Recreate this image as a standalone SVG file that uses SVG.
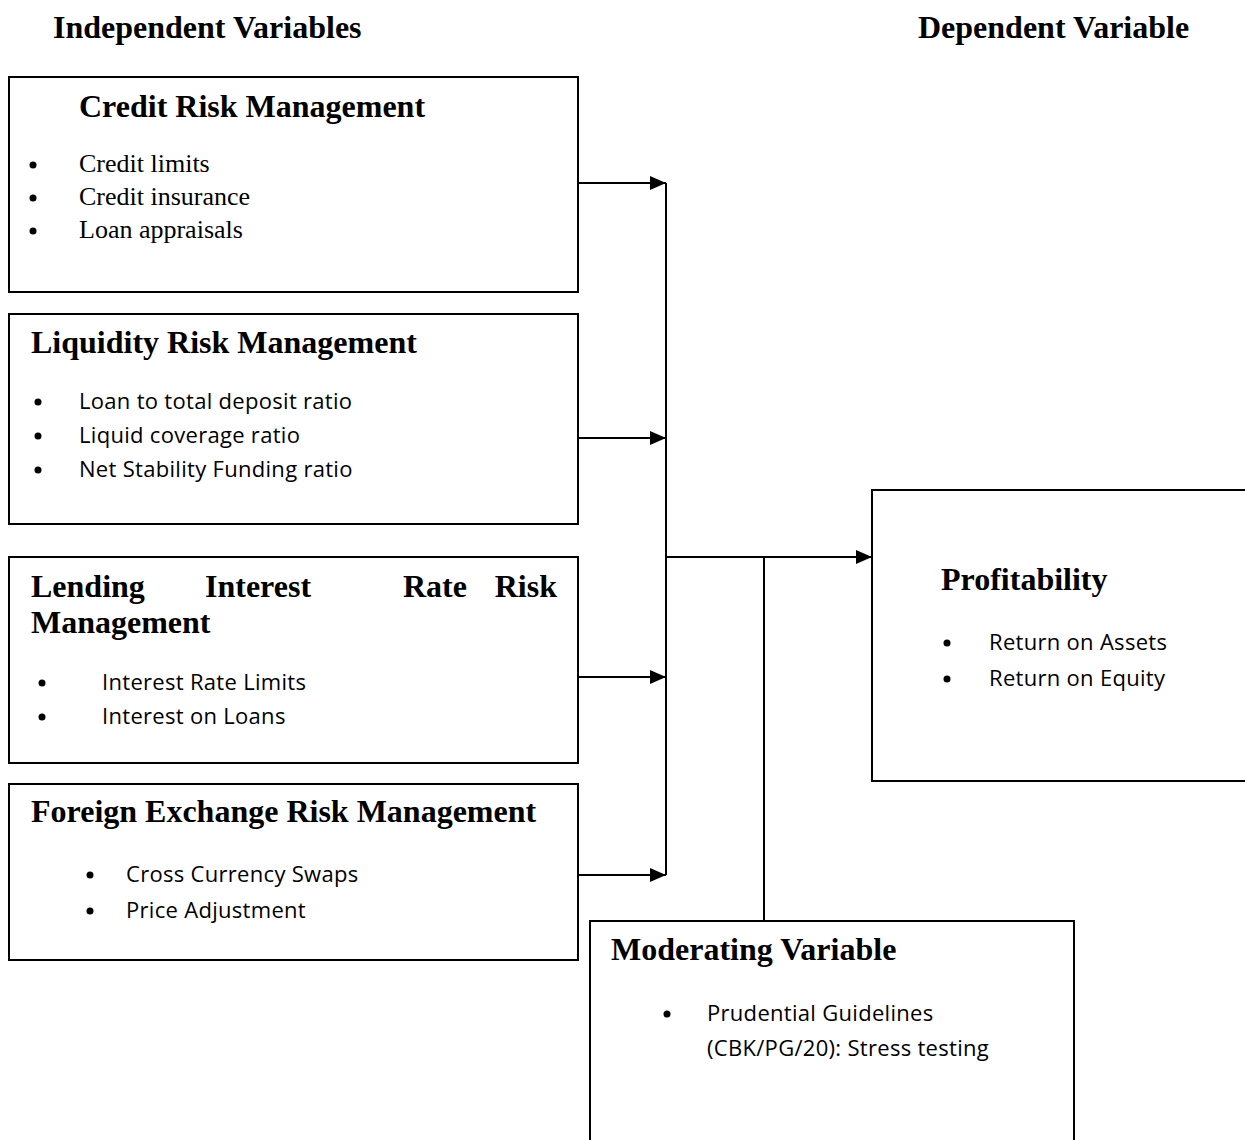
<svg xmlns="http://www.w3.org/2000/svg" width="1245" height="1140" viewBox="0 0 1245 1140">
<style>
.box{fill:#fff;stroke:#000;stroke-width:2}
.hd{font-family:"Liberation Serif",serif;font-weight:bold;font-size:32px;fill:#000}
.ti{font-family:"Liberation Serif",serif;font-weight:bold;font-size:32px;fill:#000}
.sr{font-family:"Liberation Serif",serif;font-size:26px;fill:#000}
.sn{font-family:"Open Sans","Liberation Sans",sans-serif;font-size:22px;letter-spacing:0.3px;fill:#000}
.bl{fill:#000}
.ln{stroke:#000;stroke-width:2;fill:none}
</style>
<defs>
<marker id="ah2" markerWidth="16" markerHeight="14" refX="16" refY="7" orient="auto" markerUnits="userSpaceOnUse" viewBox="0 0 16 14">
<path d="M0,0 L16,7 L0,14 z" fill="#000"/>
</marker>
</defs>
<rect width="1245" height="1140" fill="#fff"/>
<text class="hd" x="53" y="38">Independent Variables</text>
<text class="hd" x="918" y="38">Dependent Variable</text>

<g id="connectors">
<line class="ln" x1="666" y1="183" x2="666" y2="875"/>
<line class="ln" x1="578" y1="183" x2="666" y2="183" marker-end="url(#ah2)"/>
<line class="ln" x1="578" y1="438" x2="666" y2="438" marker-end="url(#ah2)"/>
<line class="ln" x1="578" y1="677" x2="666" y2="677" marker-end="url(#ah2)"/>
<line class="ln" x1="578" y1="875" x2="666" y2="875" marker-end="url(#ah2)"/>
<line class="ln" x1="666" y1="557" x2="872" y2="557" marker-end="url(#ah2)"/>
<line class="ln" x1="764" y1="557" x2="764" y2="921"/>
</g>

<g id="credit">
<rect class="box" x="9" y="77" width="569" height="215"/>
<text class="ti" x="79" y="117">Credit Risk Management</text>
<circle class="bl" cx="33" cy="165" r="3.5"/>
<text class="sr" x="79" y="172">Credit limits</text>
<circle class="bl" cx="33" cy="198" r="3.5"/>
<text class="sr" x="79" y="205">Credit insurance</text>
<circle class="bl" cx="33" cy="231" r="3.5"/>
<text class="sr" x="79" y="238">Loan appraisals</text>
</g>

<g id="liquidity">
<rect class="box" x="9" y="314" width="569" height="210"/>
<text class="ti" x="31" y="353">Liquidity Risk Management</text>
<circle class="bl" cx="38" cy="402" r="3.5"/>
<text class="sn" x="79" y="409">Loan to total deposit ratio</text>
<circle class="bl" cx="38" cy="436" r="3.5"/>
<text class="sn" x="79" y="443">Liquid coverage ratio</text>
<circle class="bl" cx="38" cy="470" r="3.5"/>
<text class="sn" x="79" y="477">Net Stability Funding ratio</text>
</g>

<g id="lending">
<rect class="box" x="9" y="557" width="569" height="206"/>
<text class="ti" x="31" y="597">Lending</text>
<text class="ti" x="205" y="597">Interest</text>
<text class="ti" x="403" y="597">Rate</text>
<text class="ti" x="557" y="597" text-anchor="end">Risk</text>
<text class="ti" x="31" y="633">Management</text>
<circle class="bl" cx="42" cy="683" r="3.5"/>
<text class="sn" x="102" y="690">Interest Rate Limits</text>
<circle class="bl" cx="42" cy="717" r="3.5"/>
<text class="sn" x="102" y="724">Interest on Loans</text>
</g>

<g id="foreign">
<rect class="box" x="9" y="784" width="569" height="176"/>
<text class="ti" x="31" y="822">Foreign Exchange Risk Management</text>
<circle class="bl" cx="90" cy="875" r="3.5"/>
<text class="sn" x="126" y="882">Cross Currency Swaps</text>
<circle class="bl" cx="90" cy="911" r="3.5"/>
<text class="sn" x="126" y="918">Price Adjustment</text>
</g>

<g id="profitability">
<rect class="box" x="872" y="490" width="380" height="291"/>
<text class="ti" x="941" y="590">Profitability</text>
<circle class="bl" cx="947" cy="643" r="3.5"/>
<text class="sn" x="989" y="650">Return on Assets</text>
<circle class="bl" cx="947" cy="679" r="3.5"/>
<text class="sn" x="989" y="686">Return on Equity</text>
</g>

<g id="moderating">
<rect class="box" x="590" y="921" width="484" height="230"/>
<text class="ti" x="611" y="960">Moderating Variable</text>
<circle class="bl" cx="667" cy="1014" r="3.5"/>
<text class="sn" x="707" y="1021">Prudential Guidelines</text>
<text class="sn" x="707" y="1056">(CBK/PG/20): Stress testing</text>
</g>
</svg>
